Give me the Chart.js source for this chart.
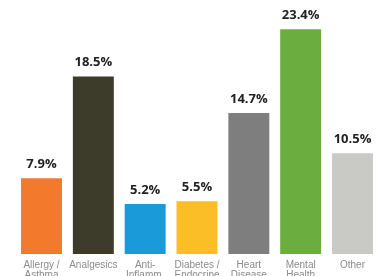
<!DOCTYPE html>
<html>
<head>
<meta charset="utf-8">
<script src="https://cdn.jsdelivr.net/npm/chart.js@4.4.1/dist/chart.umd.min.js"></script>
<style>
  html, body { margin: 0; padding: 0; background: #fff; overflow: hidden; }
  #wrap { width: 385px; height: 276px; overflow: hidden; }
</style>
</head>
<body>
<div id="wrap"><canvas id="chart" width="385" height="290"></canvas></div>
<script>
const categories = [
  ["Allergy /", "Asthma"],
  ["Analgesics"],
  ["Anti-", "Inflamm."],
  ["Diabetes /", "Endocrine"],
  ["Heart", "Disease"],
  ["Mental", "Health"],
  ["Other"]
];
const shares = [7.9, 18.5, 5.2, 5.5, 14.7, 23.4, 10.5];
const barColors = ["#F37A2C", "#3D3B2A", "#1B9AD9", "#FCBE26", "#7E7E7E", "#6BAE3F", "#C9C9C5"];

// Helper plugin to write the percent above each bar
const valueLabels = {
  id: "valueLabels",
  afterDatasetsDraw(chart) {
    const ctx = chart.ctx;
    const meta = chart.getDatasetMeta(0);
    ctx.save();
    ctx.font = "bold 13px 'Open Sans', sans-serif";
    ctx.fillStyle = "#222";
    ctx.textAlign = "center";
    ctx.textBaseline = "middle";
    meta.data.forEach((bar, i) => {
      ctx.fillText(shares[i].toFixed(1) + "%", bar.x, bar.y - 14);
    });
    ctx.restore();
  }
};

const ctx = document.getElementById("chart").getContext("2d");
new Chart(ctx, {
  type: "bar",
  data: {
    labels: categories,
    datasets: [{
      data: shares,
      backgroundColor: barColors,
      borderWidth: 0,
      barPercentage: 0.79,
      categoryPercentage: 1.0
    }]
  },
  options: {
    responsive: false,
    animation: false,
    layout: { padding: { left: 15.6, right: 6.6, top: 0, bottom: 0 } },
    plugins: {
      legend: { display: false },
      tooltip: { enabled: false }
    },
    scales: {
      x: {
        grid: { display: false, drawTicks: false },
        border: { display: false },
        ticks: {
          padding: 6,
          color: "#8a8a8a",
          font: { family: "'Liberation Sans', Arial, sans-serif", size: 10, lineHeight: 1.0 },
          maxRotation: 0,
          autoSkip: false
        },
        afterFit(scale) { scale.height = 290 - 254; }
      },
      y: {
        display: false,
        min: 0,
        max: 26.46
      }
    }
  },
  plugins: [valueLabels]
});
</script>
</body>
</html>
